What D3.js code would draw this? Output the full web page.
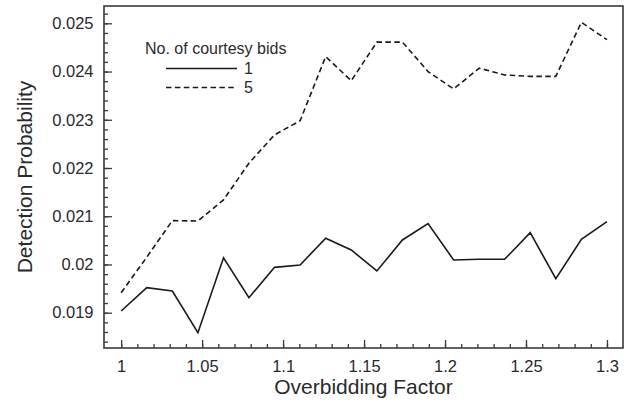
<!DOCTYPE html>
<html>
<head>
<meta charset="utf-8">
<script src="https://cdn.jsdelivr.net/npm/d3@7"></script>
<style>
  body { margin: 0; background: #fff; }
  text { font-family: "Liberation Sans", Arial, sans-serif; fill: #2a2a2a; }
</style>
</head>
<body>
<svg id="chart" width="630" height="407"></svg>
<script>
// overbidding factor, 20 steps from 1 to 1.3
const factors = [1, 1.0158, 1.0316, 1.0474, 1.0632, 1.0789, 1.0947, 1.1105,
  1.1263, 1.1421, 1.1579, 1.1737, 1.1895, 1.2053, 1.2211, 1.2368, 1.2526,
  1.2684, 1.2842, 1.3];

const bids1 = [0.019035, 0.019519, 0.01945, 0.018585, 0.02014, 0.01931,
  0.01994, 0.01999, 0.020543, 0.0203, 0.019865, 0.020508, 0.02085, 0.020093,
  0.020107, 0.020107, 0.02066, 0.019705, 0.02052, 0.02089];

const bids5 = [0.019415, 0.02015, 0.02091, 0.0209, 0.02134, 0.0221,
  0.022687, 0.02298, 0.02431, 0.02381, 0.02461, 0.02461, 0.024, 0.02364,
  0.02407, 0.02393, 0.0239, 0.0239, 0.02502, 0.02466];

const xTicks = [1, 1.05, 1.1, 1.15, 1.2, 1.25, 1.3];
const yTicks = [0.019, 0.02, 0.021, 0.022, 0.023, 0.024, 0.025];

const series = [
  { name: '1', values: bids1, dash: null },
  { name: '5', values: bids5, dash: '5.5,3.4' }
];

const margin = { top: 6, right: 7, bottom: 59, left: 104 },
  width = 630,
  height = 407;

const svg = d3.select('#chart');

const x = d3
  .scaleLinear()
  .domain([0.9894, 1.3099])
  .range([margin.left, width - margin.right]);

const y = d3
  .scaleLinear()
  .domain([0.018268, 0.025359])
  .range([height - margin.bottom, margin.top]);

const frameColor = '#3a3a3a';

// minor ticks
const xMinor = d3.range(0.99, 1.31, 0.01).filter(v => v > 0.9905 && v < 1.3095);
const yMinor = d3.range(0.0184, 0.02536, 0.0002);

svg
  .append('g')
  .attr('transform', `translate(0,${height - margin.bottom})`)
  .call(d3.axisBottom(x).tickValues(xMinor).tickSize(-4).tickFormat(''))
  .call(g => g.select('.domain').remove())
  .selectAll('line')
  .attr('stroke', frameColor)
  .attr('stroke-width', 1.3);

svg
  .append('g')
  .attr('transform', `translate(${margin.left},0)`)
  .call(d3.axisLeft(y).tickValues(yMinor).tickSize(-4).tickFormat(''))
  .call(g => g.select('.domain').remove())
  .selectAll('line')
  .attr('stroke', frameColor)
  .attr('stroke-width', 1.3);

// major ticks
svg
  .append('g')
  .attr('transform', `translate(0,${height - margin.bottom})`)
  .call(
    d3.axisBottom(x).tickValues(xTicks).tickSize(-8).tickPadding(12)
      .tickFormat(d3.format('~g'))
  )
  .call(g => g.select('.domain').remove())
  .call(g => g.selectAll('line').attr('stroke', frameColor).attr('stroke-width', 1.3))
  .call(g => g.selectAll('text').attr('font-size', 16.5).attr('fill', '#2a2a2a'));

svg
  .append('g')
  .attr('transform', `translate(${margin.left},0)`)
  .call(
    d3.axisLeft(y).tickValues(yTicks).tickSize(-8).tickPadding(10.5)
      .tickFormat(d3.format('~g'))
  )
  .call(g => g.select('.domain').remove())
  .call(g => g.selectAll('line').attr('stroke', frameColor).attr('stroke-width', 1.3))
  .call(g => g.selectAll('text').attr('font-size', 16.5).attr('fill', '#2a2a2a'));

// frame
svg
  .append('rect')
  .attr('x', margin.left)
  .attr('y', margin.top)
  .attr('width', width - margin.left - margin.right)
  .attr('height', height - margin.top - margin.bottom)
  .attr('fill', 'none')
  .attr('stroke', frameColor)
  .attr('stroke-width', 1.6);

const line = d3
  .line()
  .x((d, i) => x(factors[i]))
  .y(d => y(d));

svg
  .selectAll('.series')
  .data(series)
  .join('path')
  .attr('class', 'series')
  .attr('d', d => line(d.values))
  .attr('fill', 'none')
  .attr('stroke', '#1a1a1a')
  .attr('stroke-width', 1.6)
  .attr('stroke-dasharray', d => d.dash);

// legend
const legend = svg.append('g').attr('transform', 'translate(145,54)');

legend
  .append('text')
  .attr('x', 0)
  .attr('y', 0)
  .attr('font-size', 16)
  .text('No. of courtesy bids');

legend
  .selectAll('.legLine')
  .data(series)
  .join('line')
  .attr('class', 'legLine')
  .attr('x1', 21)
  .attr('x2', 92)
  .attr('y1', (d, i) => 14.5 + i * 19)
  .attr('y2', (d, i) => 14.5 + i * 19)
  .attr('stroke', '#1a1a1a')
  .attr('stroke-width', 1.6)
  .attr('stroke-dasharray', d => d.dash);

legend
  .selectAll('.legText')
  .data(series)
  .join('text')
  .attr('class', 'legText')
  .attr('x', 99)
  .attr('y', (d, i) => 19.5 + i * 19.5)
  .attr('font-size', 16)
  .text(d => d.name);

// axis titles
svg
  .append('text')
  .attr('x', (margin.left + width - margin.right) / 2)
  .attr('y', 394)
  .attr('text-anchor', 'middle')
  .attr('font-size', 21)
  .text('Overbidding Factor');

svg
  .append('text')
  .attr('transform', `translate(32,${(margin.top + height - margin.bottom) / 2}) rotate(-90)`)
  .attr('text-anchor', 'middle')
  .attr('font-size', 21)
  .text('Detection Probability');
</script>
</body>
</html>
